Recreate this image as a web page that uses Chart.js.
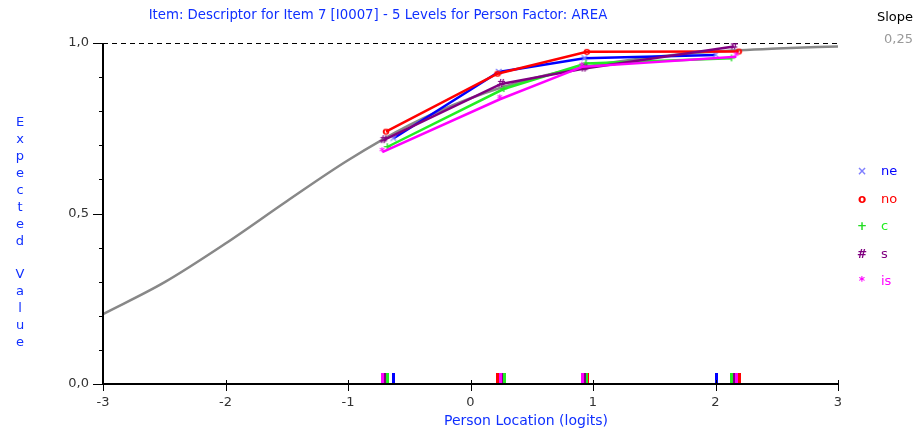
<!DOCTYPE html>
<html>
<head>
<meta charset="utf-8">
<title>Item 7 - Expected Value by AREA</title>
<script src="https://cdn.jsdelivr.net/npm/chart.js@4.4.1/dist/chart.umd.min.js"></script>
<style>
  html, body { margin: 0; padding: 0; background: #fff; }
  canvas { display: block; }
</style>
</head>
<body>
<canvas id="icc" width="917" height="434"></canvas>
<script>
// --- Data ---
const titleText = 'Item: Descriptor for Item 7 [I0007] - 5 Levels for Person Factor: AREA';
const xTitle = 'Person Location (logits)';
const yTitle = 'Expected Value';
const slopeLabel = 'Slope';
const slopeValue = '0,25';

// model expected-value curve, sampled along person location
const curveX = [-3, -2.5, -2, -1.5, -1, -0.5, 0, 0.5, 1, 1.5, 2, 2.5, 3];
const curveY = [0.205, 0.298, 0.412, 0.536, 0.656, 0.759, 0.838, 0.895, 0.934, 0.959, 0.975, 0.984, 0.99];

// observed class-interval means per AREA level
const neX = [-0.63, 0.23, 0.93, 2.0];
const neY = [0.72, 0.915, 0.955, 0.965];
const noX = [-0.69, 0.22, 0.95, 2.19];
const noY = [0.74, 0.91, 0.974, 0.975];
const cX = [-0.68, 0.27, 0.94, 2.13];
const cY = [0.695, 0.865, 0.94, 0.955];
const sX = [-0.71, 0.25, 0.93, 2.15];
const sY = [0.715, 0.88, 0.925, 0.99];
const isX = [-0.72, 0.24, 0.91, 2.17];
const isY = [0.68, 0.835, 0.93, 0.96];

const levelNames = ['ne', 'no', 'c', 's', 'is'];
const levelX = [neX, noX, cX, sX, isX];
const levelY = [neY, noY, cY, sY, isY];
const lineColors = ['#0000ff', '#ff0000', '#22ee22', '#800080', '#ff00ff'];
const markColors = ['#8080ff', '#ff0000', '#22dd22', '#800080', '#ff00ff'];
const markGlyphs = ['\u00d7', 'o', '+', '#', '*'];

const xTicks = [-3, -2, -1, 0, 1, 2, 3];
const yMajor = [0, 0.5, 1];
const yMinor = [0.1, 0.2, 0.3, 0.4, 0.6, 0.7, 0.8, 0.9];

const FONT = '"DejaVu Sans", Verdana, sans-serif';
const AXIS_BLUE = '#1030ff';

// small canvas with a text glyph, used as point style
function glyph(ch, color) {
  const c = document.createElement('canvas');
  c.width = 12; c.height = 12;
  const g = c.getContext('2d');
  g.fillStyle = color;
  g.font = 'bold 11px ' + FONT;
  g.textAlign = 'center';
  g.textBaseline = 'middle';
  g.fillText(ch, 6, 6);
  return c;
}

const datasets = levelNames.map((name, i) => ({
  label: name,
  data: levelX[i].map((x, j) => ({ x, y: levelY[i][j] })),
  showLine: true,
  borderColor: lineColors[i],
  borderWidth: 2.5,
  pointStyle: glyph(markGlyphs[i], markColors[i]),
  pointRadius: 5,
  order: 5 - i
}));

datasets.push({
  label: 'model',
  data: curveX.map((x, i) => ({ x, y: curveY[i] })),
  showLine: true,
  borderColor: '#888888',
  borderWidth: 2.5,
  pointRadius: 0,
  cubicInterpolationMode: 'monotone',
  order: 10
});

// --- Frame, axes and annotations ---
const frame = {
  id: 'frame',
  beforeDatasetsDraw(chart) {
    const { ctx, chartArea: a, scales: { y } } = chart;
    ctx.save();
    // reference line at expected value 1
    ctx.strokeStyle = '#000';
    ctx.lineWidth = 1;
    ctx.setLineDash([5, 4]);
    ctx.beginPath();
    ctx.moveTo(a.left, y.getPixelForValue(1) + 0.5);
    ctx.lineTo(a.right, y.getPixelForValue(1) + 0.5);
    ctx.stroke();
    ctx.setLineDash([]);
    ctx.restore();
  },
  afterDatasetsDraw(chart) {
    const { ctx, chartArea: a, scales: { x, y } } = chart;
    const y0 = y.getPixelForValue(0);
    ctx.save();

    // location marks of each class interval along the bottom
    levelX.forEach((xs, i) => {
      ctx.fillStyle = lineColors[i];
      xs.forEach(v => {
        const px = Math.round(x.getPixelForValue(v));
        ctx.fillRect(px - 1, y0 - 11, 3, 10);
      });
    });

    // axes
    ctx.strokeStyle = '#000';
    ctx.lineWidth = 2;
    ctx.beginPath();
    ctx.moveTo(a.left, a.top);
    ctx.lineTo(a.left, y0);
    ctx.lineTo(a.right, y0);
    ctx.stroke();

    ctx.lineWidth = 1;
    ctx.beginPath();
    yMajor.forEach(v => {
      const py = Math.round(y.getPixelForValue(v)) + 0.5;
      ctx.moveTo(a.left - 10, py); ctx.lineTo(a.left, py);
    });
    yMinor.forEach(v => {
      const py = Math.round(y.getPixelForValue(v)) + 0.5;
      ctx.moveTo(a.left - 4, py); ctx.lineTo(a.left, py);
    });
    xTicks.forEach(v => {
      const px = Math.round(x.getPixelForValue(v)) + 0.5;
      ctx.moveTo(px, y0 - 4); ctx.lineTo(px, y0 + 7);
    });
    ctx.stroke();

    // tick labels
    ctx.fillStyle = '#333';
    ctx.font = '13px ' + FONT;
    ctx.textAlign = 'right';
    ctx.textBaseline = 'middle';
    yMajor.forEach(v => {
      ctx.fillText(v.toFixed(1).replace('.', ','), a.left - 14, y.getPixelForValue(v));
    });
    ctx.textAlign = 'center';
    xTicks.forEach(v => ctx.fillText(String(v), x.getPixelForValue(v), y0 + 19));

    // axis titles
    ctx.fillStyle = AXIS_BLUE;
    ctx.font = '14px ' + FONT;
    ctx.fillText(xTitle, 526, y0 + 37);
    ctx.font = '13px ' + FONT;
    for (let k = 0; k < yTitle.length; k++) {
      ctx.fillText(yTitle[k], 20, 123 + k * 16.9);
    }

    // chart title
    ctx.font = '13.3px ' + FONT;
    ctx.fillText(titleText, 378, 16);

    // slope
    ctx.font = '13px ' + FONT;
    ctx.textAlign = 'right';
    ctx.fillStyle = '#000';
    ctx.fillText(slopeLabel, 913, 18);
    ctx.fillStyle = '#999';
    ctx.fillText(slopeValue, 913, 40);

    // legend
    levelNames.forEach((name, i) => {
      const ly = 172 + i * 27.5;
      ctx.textAlign = 'center';
      ctx.fillStyle = markColors[i];
      ctx.font = 'bold 12px ' + FONT;
      ctx.fillText(markGlyphs[i], 862, ly);
      ctx.textAlign = 'left';
      ctx.fillStyle = lineColors[i];
      ctx.font = '13px ' + FONT;
      ctx.fillText(name, 881, ly);
    });

    ctx.restore();
  }
};

new Chart(document.getElementById('icc'), {
  type: 'scatter',
  data: { datasets },
  options: {
    responsive: false,
    animation: false,
    layout: { padding: { left: 103, right: 79, top: 43, bottom: 50 } },
    plugins: { legend: { display: false }, tooltip: { enabled: false } },
    scales: {
      x: { type: 'linear', min: -3, max: 3, display: false },
      y: { type: 'linear', min: 0, max: 1, display: false }
    }
  },
  plugins: [frame]
});
</script>
</body>
</html>
